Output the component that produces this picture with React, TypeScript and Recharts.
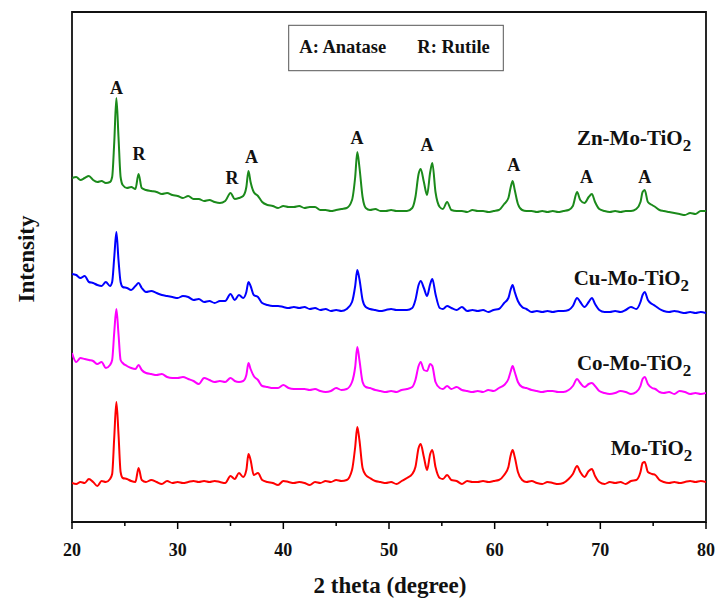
import React from 'react';
import { LineChart, Line, XAxis, YAxis, ReferenceArea, ReferenceDot } from 'recharts';

// the figure fills the whole 718x600 page
document.body.style.margin = '0';

const SERIF = '"Liberation Serif", "Times New Roman", serif';

// 2 theta grid (denser around the reflections)
const theta = [
  20.0, 20.4, 20.8, 21.2, 21.6, 22.0, 22.4, 22.8, 23.2, 23.6,
  23.8, 24.0, 24.2, 24.4, 24.6, 24.8,
  25.2, 25.6, 26.0, 26.3, 26.6,
  27.0, 27.5, 28.0, 28.5, 29.0, 29.5, 30.0, 30.5, 31.0, 31.5, 32.0, 32.5, 33.0, 33.5, 34.0, 34.5,
  35.0, 35.4, 35.8, 36.2, 36.5, 36.7, 36.9, 37.2, 37.6,
  38.0, 38.5, 39.0, 39.5, 40.0, 40.5, 41.0, 41.5, 42.0, 42.5, 43.0, 43.5, 44.0, 44.5, 45.0, 45.5, 46.0,
  46.5, 46.8, 47.0, 47.2, 47.5, 47.8,
  48.2, 48.7, 49.2, 49.7, 50.2, 50.7, 51.2, 51.7, 52.2,
  52.5, 52.8, 53.0, 53.3, 53.6, 53.9, 54.1, 54.4, 54.8, 55.1, 55.5, 55.9,
  56.4, 56.9, 57.4, 57.9, 58.4, 58.9, 59.4, 59.9, 60.4, 60.9,
  61.3, 61.5, 61.7, 61.9, 62.2, 62.6,
  63.0, 63.5, 64.0, 64.5, 65.0, 65.5, 66.0, 66.5, 67.0,
  67.4, 67.8, 68.1, 68.5, 68.9, 69.2, 69.5, 69.9,
  70.4, 70.9, 71.4, 71.9, 72.4, 72.9, 73.4,
  73.8, 74.0, 74.2, 74.5, 74.9, 75.2, 75.6,
  76.0, 76.5, 77.0, 77.5, 78.0, 78.5, 79.0, 79.5, 80.0,
];

// stacked intensities (arbitrary units, offsets included)
const znMoTiO2 = [
  344, 345, 342, 344, 346, 342, 340, 341, 339, 340,
  345, 380, 424, 385, 345, 337,
  334, 335, 333, 348, 334,
  332, 331, 330, 328, 329, 327, 326, 324, 326, 323, 323, 321, 322, 320, 319, 321,
  329, 323, 324, 326, 335, 351, 340, 330, 326,
  320, 317, 316, 314, 316, 315, 315, 316, 314, 315, 315, 312, 312, 311, 312, 313, 314,
  322, 345, 370, 355, 325, 314,
  312, 313, 311, 311, 312, 311, 311, 311, 314,
  325, 348, 353, 340, 327, 350, 359, 330, 315, 313, 320, 312,
  311, 311, 310, 312, 311, 311, 310, 311, 312, 318,
  324, 334, 341, 332, 318, 312,
  311, 311, 310, 311, 310, 311, 310, 311, 312,
  316, 330, 322, 319, 325, 328, 320, 313,
  311, 310, 311, 310, 311, 311, 313,
  320, 330, 332, 320, 317, 315, 312,
  311, 310, 309, 308, 307, 309, 308, 311, 311,
];

const cuMoTiO2 = [
  248, 247, 244, 246, 240, 239, 237, 236, 240, 236,
  240, 265, 290, 262, 240, 235,
  234, 232, 236, 239, 234,
  230, 231, 229, 227, 226, 225, 224, 226, 225, 222, 223, 220, 221, 219, 221, 221,
  228, 222, 227, 224, 230, 240, 236, 227, 225,
  219, 217, 216, 216, 215, 214, 215, 214, 215, 213, 214, 212, 213, 211, 212, 211, 213,
  220, 236, 252, 243, 222, 215,
  213, 212, 211, 212, 213, 212, 212, 212, 214,
  222, 237, 241, 234, 226, 238, 243, 228, 214, 213, 216, 214,
  212, 215, 211, 212, 211, 212, 210, 212, 213, 219,
  224, 232, 237, 230, 221, 215,
  213, 210, 211, 210, 211, 210, 211, 211, 212,
  216, 224, 220, 215, 220, 224, 218, 212,
  210, 210, 211, 210, 212, 215, 213,
  220, 227, 230, 222, 218, 216, 213,
  211, 210, 211, 210, 209, 210, 209, 210, 209,
];

const coMoTiO2 = [
  169, 160, 164, 163, 162, 161, 158, 160, 154, 157,
  162, 190, 213, 188, 162, 159,
  156, 154, 153, 157, 152,
  149, 148, 147, 148, 145, 144, 144, 145, 143, 141, 138, 144, 142, 140, 141, 140,
  144, 141, 140, 141, 147, 159, 153, 146, 142,
  136, 135, 134, 134, 137, 134, 133, 133, 133, 132, 133, 131, 130, 131, 134, 132, 133,
  140, 155, 175, 162, 140, 135,
  134, 132, 131, 130, 131, 130, 132, 133, 135,
  142, 156, 160, 152, 151, 158, 156, 140, 134, 133, 136, 133,
  135, 132, 131, 130, 131, 130, 132, 131, 134, 137,
  143, 150, 156, 150, 140, 135,
  134, 132, 131, 130, 131, 131, 130, 130, 132,
  136, 143, 139, 135, 138, 139, 136, 131,
  129, 128, 129, 131, 130, 128, 130,
  136, 143, 145, 138, 134, 133, 130,
  129, 130, 128, 131, 130, 128, 129, 128, 129,
];

const moTiO2 = [
  39, 38, 40, 39, 43, 40, 36, 41, 40, 43,
  48, 85, 120, 88, 50, 44,
  43, 41, 40, 54, 42,
  40, 42, 40, 38, 41, 39, 40, 39, 40, 41, 40, 41, 40, 41, 40, 39,
  46, 43, 49, 45, 52, 68, 62, 47, 49,
  42, 40, 39, 37, 41, 40, 39, 40, 39, 37, 40, 39, 41, 40, 42, 41, 42,
  52, 75, 95, 82, 54, 47,
  44, 41, 40, 39, 40, 38, 41, 44, 48,
  55, 74, 78, 65, 52, 68, 72, 55, 44, 43, 47, 42,
  41, 38, 41, 40, 40, 41, 40, 41, 42, 47,
  55, 66, 72, 65, 50, 42,
  40, 41, 39, 38, 40, 39, 38, 39, 43,
  48, 56, 50, 45, 51, 53, 46, 40,
  38, 40, 39, 40, 38, 41, 42,
  50, 59, 60, 50, 48, 47, 42,
  40, 39, 40, 39, 40, 41, 40, 41, 40,
];

const xTicks = [20, 25, 30, 35, 40, 45, 50, 55, 60, 65, 70, 75, 80];

const series = [
  { key: 'zn', name: 'Zn-Mo-TiO', color: '#1b8a1b' },
  { key: 'cu', name: 'Cu-Mo-TiO', color: '#0000ff' },
  { key: 'co', name: 'Co-Mo-TiO', color: '#ff00ff' },
  { key: 'mo', name: 'Mo-TiO', color: '#ff0000' },
];

// where each sample name sits (right-aligned)
const nameSpots = [
  { key: 'zn', x: 78.6, y: 377 },
  { key: 'cu', x: 78.4, y: 237 },
  { key: 'co', x: 78.6, y: 152 },
  { key: 'mo', x: 78.7, y: 67 },
];

// phase markers on the top pattern
const peakTags = [
  { x: 24.2, y: 434, tag: 'A' },
  { x: 26.34, y: 368, tag: 'R' },
  { x: 35.14, y: 344, tag: 'R' },
  { x: 36.98, y: 365, tag: 'A' },
  { x: 46.97, y: 384, tag: 'A' },
  { x: 53.6, y: 377, tag: 'A' },
  { x: 61.8, y: 357, tag: 'A' },
  { x: 68.68, y: 345, tag: 'A' },
  { x: 74.2, y: 345, tag: 'A' },
];

const rows = theta.map((t, i) => ({
  theta: t,
  zn: znMoTiO2[i],
  cu: cuMoTiO2[i],
  co: coMoTiO2[i],
  mo: moTiO2[i],
}));

const AxisTick = (props: any) => {
  const { x, y, payload } = props;
  const major = payload.value % 10 === 0;
  return (
    <g>
      <line x1={x} x2={x} y1={y} y2={y + (major ? 7 : 4)} stroke="#000" strokeWidth={1.5} />
      {major && (
        <text x={x} y={y + 34} textAnchor="middle" fontFamily={SERIF} fontWeight="bold" fontSize={18} fill="#111">
          {payload.value}
        </text>
      )}
    </g>
  );
};

export default function App() {
  return (
    <div style={{ position: 'relative', width: 718, height: 600, overflow: 'hidden' }}>
      <LineChart width={718} height={600} data={rows} margin={{ top: 12, right: 12, bottom: 48, left: 72 }}>
        <XAxis
          dataKey="theta"
          type="number"
          domain={[20, 80]}
          ticks={xTicks}
          interval={0}
          allowDataOverflow
          axisLine={false}
          tickLine={false}
          tickSize={0}
          tickMargin={0}
          height={30}
          tick={<AxisTick />}
        />
        <YAxis hide type="number" domain={[0, 510]} allowDataOverflow />
        {series.map((s) => (
          <Line
            key={s.key}
            dataKey={s.key}
            type="monotone"
            stroke={s.color}
            strokeWidth={2}
            dot={false}
            isAnimationActive={false}
          />
        ))}
        {nameSpots.map((n) => {
          const s = series.find((q) => q.key === n.key)!;
          return (
            <ReferenceDot
              key={'name-' + n.key}
              x={n.x}
              y={n.y}
              r={0}
              shape={(p: any) => (
                <text x={p.cx} y={p.cy} textAnchor="end" fontFamily={SERIF} fontWeight="bold" fontSize={21} fill="#111">
                  {s.name}
                  <tspan dy={6} fontSize={17}>2</tspan>
                </text>
              )}
            />
          );
        })}
        {peakTags.map((p, i) => (
          <ReferenceDot
            key={'tag-' + i}
            x={p.x}
            y={p.y}
            r={0}
            shape={(d: any) => (
              <text x={d.cx} y={d.cy} dy="0.35em" textAnchor="middle" fontFamily={SERIF} fontWeight="bold" fontSize={18} fill="#111">
                {p.tag}
              </text>
            )}
          />
        ))}
        <ReferenceArea x1={20} x2={80} y1={0} y2={510} fill="none" stroke="#111" strokeWidth={1.8} ifOverflow="visible" />
      </LineChart>
      <svg width={718} height={600} style={{ position: 'absolute', left: 0, top: 0, pointerEvents: 'none' }}>
        <rect x={288.7} y={25.3} width={214.6} height={45.4} fill="#fff" stroke="#555" strokeWidth={1} />
        <text x={299.3} y={52.7} fontFamily={SERIF} fontWeight="bold" fontSize={18.5} fill="#111">A: Anatase</text>
        <text x={417.3} y={52.7} fontFamily={SERIF} fontWeight="bold" fontSize={18.5} fill="#111">R: Rutile</text>
        <text transform="translate(34,259) rotate(-90)" textAnchor="middle" fontFamily={SERIF} fontWeight="bold" fontSize={23} fill="#111">
          Intensity
        </text>
        <text x={390} y={592.7} textAnchor="middle" fontFamily={SERIF} fontWeight="bold" fontSize={23} fill="#111">
          2 theta (degree)
        </text>
      </svg>
    </div>
  );
}
